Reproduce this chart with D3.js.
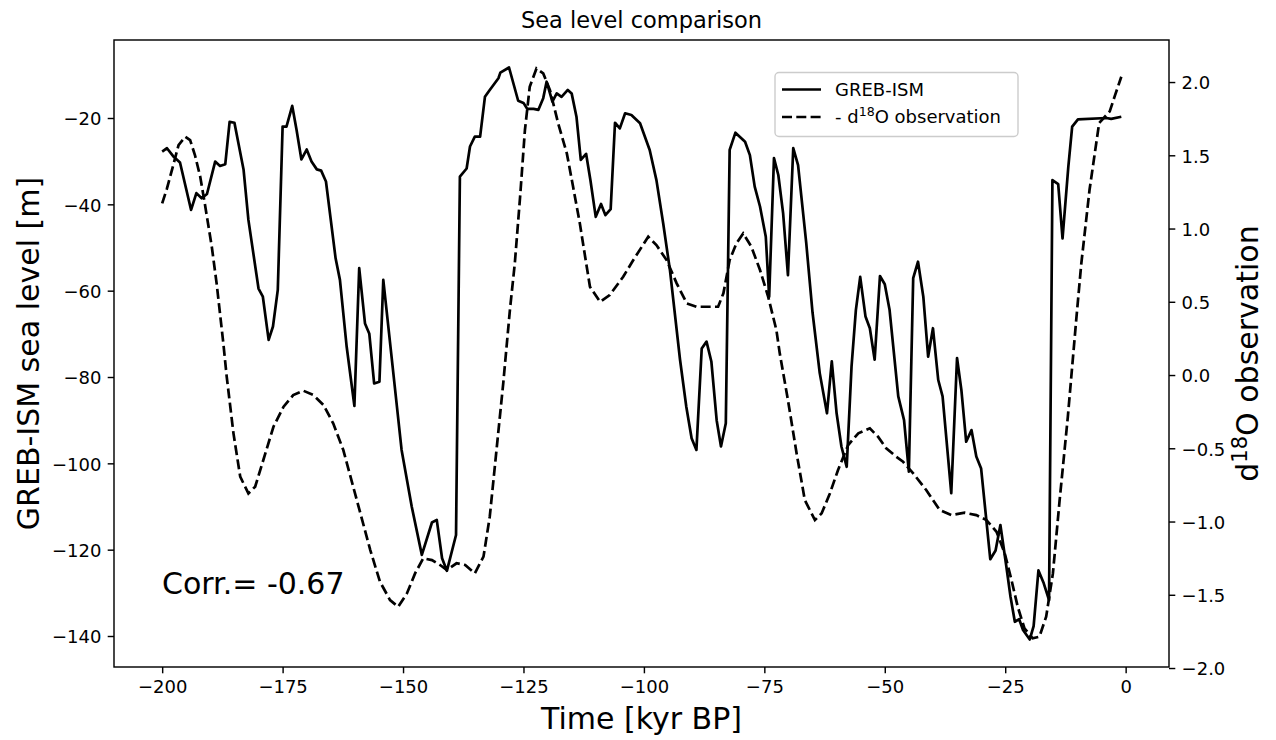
<!DOCTYPE html>
<html lang="en">
<head>
    <meta charset="UTF-8">
    <title>Sea level comparison</title>
    <script src="https://d3js.org/d3.v7.min.js"></script>
    <style>
        body {
            margin: 0;
            background: #fff;
        }
        svg text {
            font-family: "DejaVu Sans", sans-serif;
            fill: #000;
        }
        .tick text {
            font-size: 18px;
        }
    </style>
</head>
<body>
<script>
    // GREB-ISM sea level [m] against time [kyr BP]
    var gremTime = [-200, -199, -197.6, -196.3, -194, -192.9, -191.8, -190.7, -189, -188, -186.9, -186, -185,
        -183.1, -182.1, -180, -179.1, -177.9, -177, -176, -175, -174.2, -173, -172.1, -171.1, -170, -169,
        -167.9, -167, -166, -164, -163.1, -161.7, -160.1, -159.1, -157.9, -157, -156, -154.9, -154.1,
        -150.3, -148.2, -146.1, -144, -143, -141.9, -140.9, -139, -138.2, -136.8, -136.1, -135.1, -134,
        -133, -132, -130.2, -129.8, -128, -126.1, -125, -124.2, -122.9, -121.9, -120.9, -120.2, -119,
        -118.1, -117.1, -115.8, -115, -114, -113.1, -112, -111.1, -110, -108.9, -108, -106.9, -106, -105,
        -103.9, -102.6, -100.8, -98.8, -97.4, -96, -94.6, -92.5, -91.2, -90.1, -89.1, -88, -87, -86,
        -84.9, -84, -83, -82.2, -81, -79, -78, -77, -75.9, -74.7, -74, -73, -72.1, -71.1, -70.1, -69, -68,
        -66.3, -65, -63.5, -62, -61, -60, -59, -57.9, -56.9, -56, -55.1, -54, -53.1, -52.1, -51, -50, -49,
        -47.2, -46, -45, -44.1, -43.1, -42, -41, -40, -38.9, -38, -36.2, -35, -34.1, -33.1, -32, -31, -30,
        -28.1, -27, -26, -24.8, -23.9, -23, -22.1, -21.3, -19.9, -19.1, -18.1, -17, -15.9, -15.2, -14,
        -13.1, -11.9, -11.1, -9.9, -4, -3, -0.9];
    var gremSea = [-27.8, -27.0, -29.0, -30.3, -41.3, -37.4, -38.6, -37.6, -30.1, -31.1, -30.7, -20.9, -21.1,
        -32.0, -43.6, -59.5, -61.4, -71.4, -68.3, -59.8, -22.0, -22.0, -17.2, -22.8, -29.6, -27.3, -30.1,
        -31.9, -32.2, -34.7, -52.5, -57.5, -73.0, -86.7, -54.8, -67.6, -70.0, -81.5, -81.1, -57.5,
        -96.9, -110, -121.2, -113.7, -113.1, -122.0, -124.9, -116.6, -33.6, -31.7, -26.6, -24.3, -24.3,
        -15.1, -13.5, -10.8, -9.5, -8.3, -16.0, -16.5, -17.9, -17.9, -18.1, -15.4, -11.6, -16.2,
        -14.3, -15.1, -13.5, -14.3, -19.7, -29.7, -28.3, -34.4, -42.9, -39.9, -42.5, -41.1, -21.1, -22.4,
        -18.9, -19.3, -21.2, -27.4, -34.4, -44.4, -55.2, -76.0, -86.9, -94.2, -96.9, -73.4, -71.8, -76.4,
        -90.0, -96.1, -90.7, -27.4, -23.4, -25.5, -28.6, -35.9, -40.5, -47.5, -61.4, -29.3, -33.2, -42.1, -56.4, -27.0, -30.9,
        -49.0, -65.0, -79.1, -88.4, -76.4, -88.4, -96.1, -100.8, -77.6, -64.5, -56.8, -66.0, -68.7, -76.0, -56.6, -58.5, -64.5,
        -84.5, -90.0, -101.9, -57.1, -53.3, -61.4, -75.3, -68.7, -80.7, -84.5, -106.9, -75.6, -83.0, -95.0, -92.3, -98.4, -101.2,
        -122.2, -120.2, -114.3, -123.6, -130.9, -136.7, -136.1, -138.6, -140.8, -137.7, -124.8, -127.8, -131.7, -34.4, -35.3,
        -47.9, -31.3, -22.0, -20.3, -20.0, -20.2, -19.7];

    // negative d18O observation against time [kyr BP]
    var obsTime = [-200, -199, -197.6, -196.6, -195.2, -194.2, -193.2, -192.1, -191.1, -189.7, -188.7, -187.3,
        -186.6, -185.2, -183.8, -182.1, -180.7, -179, -176.9, -174.8, -172.8, -170.7, -168.6, -166.5, -164.5,
        -162.4, -159.6, -156.8, -154.8, -152.7, -151, -149.2, -147.5, -145.8, -144, -142.3, -140.9, -138.9,
        -137.1, -135.1, -133.3, -132, -130.6, -129.2, -127.8, -126.8, -125.7, -124.7, -123.7, -122.3, -120.9,
        -119.5, -117.8, -116, -114.7, -113.3, -112.2, -111.2, -109.1, -107.1, -104.3, -102.2, -99.1, -97.4,
        -95.3, -93.2, -91.1, -89.1, -86.3, -84.6, -83.5, -82.2, -80.8, -79.4, -77.7, -75.9, -74.2, -72.5,
        -71.8, -70.1, -68.3, -66.6, -64.5, -63.1, -61.4, -59.7, -57.6, -55.5, -53.1, -51.4, -49.7, -47.6,
        -46.2, -44.1, -41.4, -38.6, -36.2, -33.4, -31, -28.9, -26.8, -25.1, -23.7, -22.4, -21, -19.3, -17.9,
        -16.5, -15.1, -13.7, -12, -10.2, -9.2, -7.5, -5.5, -3.3, -2.3, -0.9];
    var obsD18O = [1.172, 1.274, 1.445, 1.570, 1.627, 1.604, 1.502, 1.354, 1.160, 0.876, 0.626, 0.216,
        -0.012, -0.398, -0.694, -0.808, -0.762, -0.580, -0.353, -0.216, -0.137, -0.107, -0.137, -0.205, -0.330,
        -0.512, -0.853, -1.195, -1.41, -1.536, -1.582, -1.491, -1.354, -1.251, -1.263, -1.297, -1.331, -1.285,
        -1.297, -1.354, -1.240, -0.967, -0.512, -0.057, 0.45, 0.762, 1.217, 1.672, 1.968, 2.093, 2.059,
        1.945, 1.718, 1.513, 1.285, 1.035, 0.808, 0.603, 0.500, 0.546, 0.671, 0.785, 0.944, 0.887,
        0.785, 0.626, 0.489, 0.466, 0.466, 0.466, 0.558, 0.785, 0.899, 0.967, 0.876, 0.717, 0.534, 0.307,
        0.148, -0.171, -0.535, -0.853, -0.990, -0.944, -0.808, -0.648, -0.478, -0.398, -0.364, -0.421, -0.500, -0.558,
        -0.592, -0.671, -0.785, -0.922, -0.956, -0.940, -0.956, -0.990, -1.070, -1.217, -1.399, -1.582, -1.729, -1.797, -1.786,
        -1.650, -1.354, -0.853, -0.285, 0.398, 0.762, 1.263, 1.72, 1.80, 1.90, 2.036];

    var xTicks = [-200, -175, -150, -125, -100, -75, -50, -25, 0];
    var leftTicks = [-140, -120, -100, -80, -60, -40, -20];
    var rightTicks = [-2.0, -1.5, -1.0, -0.5, 0.0, 0.5, 1.0, 1.5, 2.0];
    var corrText = "Corr.= -0.67";

    var width = 1276, height = 740;
    var box = {left: 114, right: 1169, top: 40, bottom: 667};

    var x = d3.scaleLinear().domain([-210, 9]).range([box.left, box.right]);
    var yLeft = d3.scaleLinear().domain([-147.18, -1.93]).range([box.bottom, box.top]);
    var yRight = d3.scaleLinear().domain([-1.993, 2.287]).range([box.bottom, box.top]);

    var svg = d3.select("body").append("svg")
            .attr("width", width)
            .attr("height", height);

    svg.append("rect")
            .attr("width", width)
            .attr("height", height)
            .attr("fill", "#fff");

    var minus = function (s) { return s.replace("-", "\u2212"); };

    var xAxis = d3.axisBottom(x)
            .tickValues(xTicks)
            .tickSize(6.3)
            .tickPadding(6)
            .tickFormat(function (d) { return minus(d3.format("d")(d)); });

    var yAxisLeft = d3.axisLeft(yLeft)
            .tickValues(leftTicks)
            .tickSize(6.3)
            .tickPadding(6.3)
            .tickFormat(function (d) { return minus(d3.format("d")(d)); });

    var yAxisRight = d3.axisRight(yRight)
            .tickValues(rightTicks)
            .tickSize(6.3)
            .tickPadding(6.3)
            .tickFormat(function (d) { return minus(d3.format(".1f")(d)); });

    function styleAxis(g) {
        g.select(".domain").remove();
        g.selectAll(".tick line").attr("stroke", "#000").attr("stroke-width", 1.44);
        g.selectAll(".tick text").attr("fill", "#000").style("font-family", "DejaVu Sans");
    }

    svg.append("g")
            .attr("transform", "translate(0," + box.bottom + ")")
            .call(xAxis)
            .call(styleAxis)
            .selectAll(".tick text").attr("dy", "0.78em");

    svg.append("g")
            .attr("transform", "translate(" + box.left + ",0)")
            .call(yAxisLeft)
            .call(styleAxis)
            .selectAll(".tick text").attr("dy", "0.38em");

    svg.append("g")
            .attr("transform", "translate(" + box.right + ",0)")
            .call(yAxisRight)
            .call(styleAxis)
            .selectAll(".tick text").attr("dy", "0.38em");

    // lines
    var gremData = gremTime.map(function (t, i) { return [t, gremSea[i]]; });
    var obsData = obsTime.map(function (t, i) { return [t, obsD18O[i]]; });

    var lineLeft = d3.line()
            .x(function (d) { return x(d[0]); })
            .y(function (d) { return yLeft(d[1]); });

    var lineRight = d3.line()
            .x(function (d) { return x(d[0]); })
            .y(function (d) { return yRight(d[1]); });

    svg.append("path")
            .datum(gremData)
            .attr("d", lineLeft)
            .attr("fill", "none")
            .attr("stroke", "#000")
            .attr("stroke-width", 2.7)
            .attr("stroke-linejoin", "round");

    svg.append("path")
            .datum(obsData)
            .attr("d", lineRight)
            .attr("fill", "none")
            .attr("stroke", "#000")
            .attr("stroke-width", 2.7)
            .attr("stroke-dasharray", "10,4.3");

    // frame
    svg.append("rect")
            .attr("x", box.left)
            .attr("y", box.top)
            .attr("width", box.right - box.left)
            .attr("height", box.bottom - box.top)
            .attr("fill", "none")
            .attr("stroke", "#000")
            .attr("stroke-width", 1.44);

    // texts
    svg.append("text")
            .attr("x", (box.left + box.right) / 2)
            .attr("y", 27.5)
            .attr("text-anchor", "middle")
            .style("font-size", "22.5px")
            .text("Sea level comparison");

    svg.append("text")
            .attr("x", (box.left + box.right) / 2)
            .attr("y", 729)
            .attr("text-anchor", "middle")
            .style("font-size", "30px")
            .text("Time [kyr BP]");

    svg.append("text")
            .attr("transform", "translate(39," + (box.top + box.bottom) / 2 + ") rotate(-90)")
            .attr("text-anchor", "middle")
            .style("font-size", "30px")
            .text("GREB-ISM sea level [m]");

    var rlab = svg.append("text")
            .attr("transform", "translate(1258," + (box.top + box.bottom) / 2 + ") rotate(-90)")
            .attr("text-anchor", "middle")
            .style("font-size", "30px");
    rlab.append("tspan").text("d");
    rlab.append("tspan").attr("dy", -11.5).style("font-size", "21px").text("18");
    rlab.append("tspan").attr("dy", 11.5).text("O observation");

    svg.append("text")
            .attr("x", 162)
            .attr("y", 594)
            .style("font-size", "30px")
            .text(corrText);

    // legend
    var legend = svg.append("g");
    legend.append("rect")
            .attr("x", 775)
            .attr("y", 72.5)
            .attr("width", 243)
            .attr("height", 64)
            .attr("rx", 4)
            .attr("fill", "#fff")
            .attr("fill-opacity", 0.8)
            .attr("stroke", "#cccccc")
            .attr("stroke-width", 1.4);

    legend.append("line")
            .attr("x1", 782).attr("x2", 821)
            .attr("y1", 89.5).attr("y2", 89.5)
            .attr("stroke", "#000").attr("stroke-width", 2.7);
    legend.append("line")
            .attr("x1", 782).attr("x2", 821)
            .attr("y1", 117).attr("y2", 117)
            .attr("stroke", "#000").attr("stroke-width", 2.7)
            .attr("stroke-dasharray", "10,4.3");

    legend.append("text")
            .attr("x", 835)
            .attr("y", 89.5)
            .attr("dy", "0.36em")
            .style("font-size", "18px")
            .text("GREB-ISM");

    var l2 = legend.append("text")
            .attr("x", 835)
            .attr("y", 117)
            .attr("dy", "0.36em")
            .style("font-size", "18px");
    l2.append("tspan").text("- d");
    l2.append("tspan").attr("dy", -7).style("font-size", "12.6px").text("18");
    l2.append("tspan").attr("dy", 7).text("O observation");
</script>
</body>
</html>
